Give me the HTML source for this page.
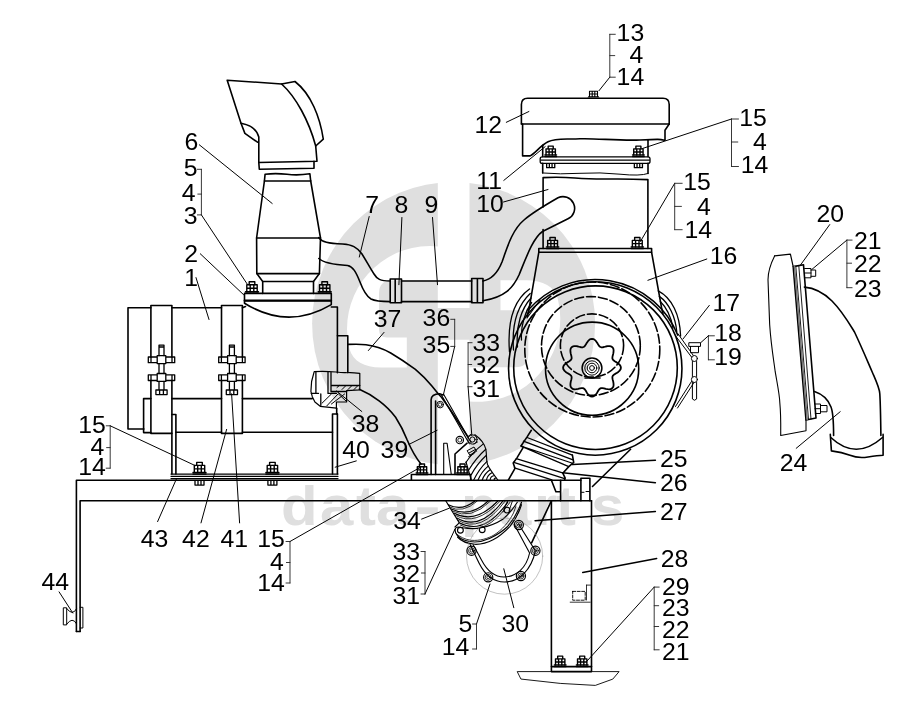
<!DOCTYPE html><html><head><meta charset="utf-8"><title>diagram</title><style>html,body{margin:0;padding:0;background:#fff}svg{display:block;filter:grayscale(1)}text{font-family:"Liberation Sans",sans-serif}</style></head><body>
<svg width="910" height="727" viewBox="0 0 910 727">
<rect width="910" height="727" fill="#fff"/>
<g id="wm"><circle cx="453.6" cy="323.6" r="141.5" fill="#dfdfdf"/>
<path d="M437.8,178 H469.5 V308 H437.8 V280.5 L392,280.5 Q379,280.5 379,293.5 L379,329.5 Q379,337.5 387,337.5 L406.8,337.5 L406.8,367.5 L381,367.5 C364,367.5 353,361 349.5,349 A83,83 0 0 1 347,329 A83,83 0 0 1 437.8,246.4 Z" fill="#fff"/>
<path d="M437.8,178 H469.5 V308 H437.8 V280.5 L392,280.5 Q379,280.5 379,293.5 L379,329.5 Q379,337.5 387,337.5 L406.8,337.5 L406.8,367.5 L381,367.5 C364,367.5 353,361 349.5,349 A83,83 0 0 1 347,329 A83,83 0 0 1 437.8,246.4 Z" fill="#fff" transform="rotate(180 453.65 323.9)"/>
<g font-weight="bold" font-size="56" fill="#dfdfdf">
<text x="281" y="525" transform="translate(281 0) scale(1.07 1) translate(-281 0)">d</text>
<text x="320" y="525" transform="translate(320 0) scale(1.07 1) translate(-320 0)">a</text>
<text x="356" y="525" transform="translate(356 0) scale(1.07 1) translate(-356 0)">t</text>
<text x="376" y="525" transform="translate(376 0) scale(1.07 1) translate(-376 0)">a</text>
<text x="414" y="525" transform="translate(414 0) scale(1.45 1) translate(-414 0)">-</text>
<text x="461" y="525" transform="translate(461 0) scale(1.07 1) translate(-461 0)">p</text>
<text x="498" y="525" transform="translate(498 0) scale(1.07 1) translate(-498 0)">a</text>
<text x="534" y="525" transform="translate(534 0) scale(1.07 1) translate(-534 0)">r</text>
<text x="556" y="525" transform="translate(556 0) scale(1.07 1) translate(-556 0)">t</text>
<text x="591" y="525" transform="translate(591 0) scale(1.07 1) translate(-591 0)">s</text>
</g></g>
<g id="draw" fill="none" stroke="#000" stroke-width="1.6" stroke-linecap="round" stroke-linejoin="round">
<path d="M227.2,80.2 L281.6,84 L295,81.5 C311,94 320,117 323.3,139.2 L315.7,146 L317,161.2 L258.8,162.5 L258.8,137 Q256,126 241,123.3 Z" />
<path d="M281.6,84 C296,97 309,121 315.7,146" />
<path d="M241,123.3 L244.9,133.4 L257.5,142.2" />
<path d="M258.8,162.5 L259.3,169.3 L314,168.3 L314,161.3" />
<path d="M265.1,174.2 Q276,173 287,174.3 T309.9,173.8 L310.7,181 L320.5,238 L319.4,273.6 L313.5,281.5 L313.5,293.4 M265.1,174.2 L264.4,181 L256.6,238 L256.8,273.6 L262.7,281.5 L262.7,293.4" />
<line x1="264.4" y1="181" x2="310.7" y2="181" />
<line x1="256.6" y1="238" x2="320.5" y2="238" />
<line x1="256.8" y1="273.6" x2="319.4" y2="273.6" />
<line x1="262.7" y1="281.5" x2="313.5" y2="281.5" />
<path d="M244.5,293.4 H331.3 V301 H244.5 Z" />
<line x1="244.5" y1="300.3" x2="331.3" y2="300.3" stroke-width="1.8"/>
<path d="M244.5,301 V303.2 Q287.9,330.3 331.3,304.6 V301" />
<g stroke-width="1.4">
<path d="M245.5,293.4 h13.0 M245.5,291.79999999999995 h13.0" />
<path d="M246.8,291.79999999999995 V284.79999999999995 H257.2 V291.79999999999995 M250.2,291.79999999999995 V284.79999999999995 M253.8,291.79999999999995 V284.79999999999995 M246.8,288.29999999999995 H257.2" />
<path d="M249.2,284.79999999999995 V281.79999999999995 H254.8 V284.79999999999995" />
</g>
<g stroke-width="1.4">
<path d="M318.2,293.4 h13.0 M318.2,291.79999999999995 h13.0" />
<path d="M319.5,291.79999999999995 V284.79999999999995 H329.9 V291.79999999999995 M322.9,291.79999999999995 V284.79999999999995 M326.5,291.79999999999995 V284.79999999999995 M319.5,288.29999999999995 H329.9" />
<path d="M321.9,284.79999999999995 V281.79999999999995 H327.5 V284.79999999999995" />
</g>
<path d="M150.9,307.7 H128 V429 H143.9" />
<line x1="171.9" y1="307.7" x2="221.5" y2="307.7" />
<line x1="242.4" y1="307.7" x2="245.5" y2="306.5" />
<path d="M331.3,307 H337.4 V372.7" />
<path d="M336.7,408.2 V414" />
<path d="M150.9,357 V305.5 H171.9 V357 M150.9,380.5 V433.4 H171.9 V380.5" />
<path d="M221.5,357 V305.5 H242.4 V357 M221.5,380.5 V433.4 H242.4 V380.5" />
<path d="M150.9,432.6 H143.6 V398.6 H150.9" />
<line x1="171.9" y1="398.6" x2="221.5" y2="398.6" />
<line x1="242.4" y1="398.6" x2="312.3" y2="398.6" />
<line x1="175.9" y1="432.2" x2="221.5" y2="432.2" />
<line x1="242.4" y1="432.2" x2="332.5" y2="432.2" />
<g stroke-width="1.3">
<path d="M159.0,345.2 h5 M159.0,347 h5 M159.0,345.2 V355.7 M164.0,345.2 V355.7" />
<path d="M157.2,355.7 h8.6 v7.9 h-8.6 Z M148.3,357 h8.9 v5.7 h-8.9 Z M165.8,357 h8.9 v5.7 h-8.9 Z M151.0,357 v5.7 M172.0,357 v5.7" />
<path d="M159.0,363.6 V373.5 M164.0,363.6 V373.5" />
<path d="M157.2,373.5 h8.6 v7.9 h-8.6 Z M148.3,374.8 h8.9 v5.7 h-8.9 Z M165.8,374.8 h8.9 v5.7 h-8.9 Z M151.0,374.8 v5.7 M172.0,374.8 v5.7" />
<path d="M159.0,381.4 V390 M164.0,381.4 V390 M155.9,390 h11.2 v4.6 h-11.2 Z M159.6,390 v4.6 M163.4,390 v4.6" />
</g>
<g stroke-width="1.3">
<path d="M229.4,345.2 h5 M229.4,347 h5 M229.4,345.2 V355.7 M234.4,345.2 V355.7" />
<path d="M227.6,355.7 h8.6 v7.9 h-8.6 Z M218.70000000000002,357 h8.9 v5.7 h-8.9 Z M236.20000000000002,357 h8.9 v5.7 h-8.9 Z M221.4,357 v5.7 M242.4,357 v5.7" />
<path d="M229.4,363.6 V373.5 M234.4,363.6 V373.5" />
<path d="M227.6,373.5 h8.6 v7.9 h-8.6 Z M218.70000000000002,374.8 h8.9 v5.7 h-8.9 Z M236.20000000000002,374.8 h8.9 v5.7 h-8.9 Z M221.4,374.8 v5.7 M242.4,374.8 v5.7" />
<path d="M229.4,381.4 V390 M234.4,381.4 V390 M226.3,390 h11.2 v4.6 h-11.2 Z M230.0,390 v4.6 M233.8,390 v4.6" />
</g>
<path d="M171.9,414.5 H175.9 V474" />
<line x1="171.9" y1="433.4" x2="171.9" y2="474" />
<path d="M337.4,414 H332.5 V474" />
<line x1="337.4" y1="414" x2="337.4" y2="474" />
<path d="M171,474 H338 M171,476.3 H338 M171,478.6 H338" stroke-width="1.25"/>
<path d="M76.4,631.5 V480.3 H580.9" />
<path d="M80.1,631.5 V500.8 H591.5" />
<line x1="76.4" y1="631.5" x2="80.1" y2="631.5" />
<g stroke-width="1.4">
<path d="M193.0,474 h13.0 M193.0,472.4 h13.0" />
<path d="M194.3,472.4 V465.4 H204.7 V472.4 M197.7,472.4 V465.4 M201.3,472.4 V465.4 M194.3,468.9 H204.7" />
<path d="M196.7,465.4 V462.4 H202.3 V465.4" />
</g>
<g stroke-width="1.4">
<path d="M265.9,474 h13.0 M265.9,472.4 h13.0" />
<path d="M267.2,472.4 V465.4 H277.59999999999997 V472.4 M270.59999999999997,472.4 V465.4 M274.2,472.4 V465.4 M267.2,468.9 H277.59999999999997" />
<path d="M269.59999999999997,465.4 V462.4 H275.2 V465.4" />
</g>
<g stroke-width="1.3">
<path d="M195.0,480.6 V485.1 H204.0 V480.6 M198.0,480.6 V485.1 M201.0,480.6 V485.1" />
</g>
<g stroke-width="1.3">
<path d="M267.9,480.6 V485.1 H276.9 V480.6 M270.9,480.6 V485.1 M273.9,480.6 V485.1" />
</g>
<path d="M63.7,607.8 H66.7 V624.9 H63.7 Z" stroke-width="1"/>
<path d="M66.7,608.5 Q72.5,616.3 76.4,609 M66.7,624.2 Q72.5,616.3 76.4,623.6" stroke-width="1"/>
<path d="M80.1,607.3 H82.9 V628 H80.1" stroke-width="1"/>
<path d="M318.8,237.7 C322,242 328,243.6 342.6,244 C352,244.6 357,247 362,254 C367,262 370,268 374,274 C377,279 380,281 390.2,281" />
<path d="M318.8,258.5 C323,262.5 332,264.5 347.6,265.5 C353,266.5 356,272 360,282 C363,290 366,296 371,299 C376,301.6 382,301.6 390.2,301.6" />
<path d="M390.2,279 H401.5 V302.8 H390.2 Z M395.2,279 V302.8" />
<line x1="401.5" y1="281" x2="471.7" y2="281" />
<line x1="401.5" y1="301.6" x2="471.7" y2="301.6" />
<path d="M471.7,278.5 H483 V302.8 H471.7 Z M477.4,278.5 V302.8" />
<path d="M483,281 C493,279 498,272 502,262 C507,248 512,230 524,220 C531,214 542,207 558,197.8 A11.3,11.3 0 0 1 568,218.8 L542.5,231.5 C533,238 526,258 519,275 C513,288 505,297 483,300.8" />
<path d="M521.4,124 V104.5 Q521.4,98.2 527.6,98.2 H663 Q669.2,98.2 669.2,104.5 V124" />
<line x1="521.4" y1="124" x2="669.2" y2="124" />
<path d="M522.6,124 V155.9 H530.2 C536,152.5 540,146 548,141.8 C556,137.6 566,139.6 580,138.8 S620,141 640,140 S660,139.2 665,140.3 V130.3 L669.2,124" />
<path d="M587.5,98.2 h12 M588.5,96.8 h10 M589.5,96.8 v-5.5 h8 v5.5 M592.2,91.3 v5.5 M594.8,91.3 v5.5 M589.5,94 h8" stroke-width="1.1"/>
<line x1="542.7" y1="145.3" x2="542.7" y2="156.6" />
<line x1="648" y1="140.3" x2="648" y2="156.6" />
<rect x="540.2" y="156.8" width="109.8" height="6.6" rx="2" stroke-width="1.3"/>
<path d="M541,160.1 H649.5" stroke-width="1.1"/>
<g stroke-width="1.4">
<path d="M544.85,156.6 h11.700000000000001 M544.85,155.0 h11.700000000000001" />
<path d="M546.0200000000001,155.0 V148.85999999999999 H555.38 V155.0 M549.08,155.0 V148.85999999999999 M552.32,155.0 V148.85999999999999 M546.0200000000001,151.93 H555.38" />
<path d="M548.1800000000001,148.85999999999999 V146.16 H553.22 V148.85999999999999" />
</g>
<g stroke-width="1.4">
<path d="M632.55,156.6 h11.700000000000001 M632.55,155.0 h11.700000000000001" />
<path d="M633.72,155.0 V148.85999999999999 H643.0799999999999 V155.0 M636.78,155.0 V148.85999999999999 M640.02,155.0 V148.85999999999999 M633.72,151.93 H643.0799999999999" />
<path d="M635.88,148.85999999999999 V146.16 H640.92 V148.85999999999999" />
</g>
<g stroke-width="1.3">
<path d="M546.6500000000001,163.6 V167.65 H554.75 V163.6 M549.35,163.6 V167.65 M552.0500000000001,163.6 V167.65" />
</g>
<g stroke-width="1.3">
<path d="M634.35,163.6 V167.65 H642.4499999999999 V163.6 M637.05,163.6 V167.65 M639.75,163.6 V167.65" />
</g>
<path d="M542.7,163.4 V173 M648,163.4 V173.5" />
<path d="M542.7,173 Q560,174.5 580,173.3 T620,174.2 T648,173.5" stroke-width="1"/>
<path d="M543.1,207 V177.6 Q560,176.8 575,178 T610,179 T647.9,179.6 V248.5" />
<line x1="543.1" y1="229.5" x2="543.1" y2="248.5" />
<path d="M538.8,248.5 H651.6 V252.3 H538.8 Z" />
<g stroke-width="1.4">
<path d="M546.4250000000001,248.5 h12.35 M546.4250000000001,246.9 h12.35" />
<path d="M547.66,246.9 V240.33 H557.5400000000001 V246.9 M550.89,246.9 V240.33 M554.3100000000001,246.9 V240.33 M547.66,243.615 H557.5400000000001" />
<path d="M549.94,240.33 V237.48000000000002 H555.26 V240.33" />
</g>
<g stroke-width="1.4">
<path d="M631.125,248.5 h12.35 M631.125,246.9 h12.35" />
<path d="M632.3599999999999,246.9 V240.33 H642.24 V246.9 M635.5899999999999,246.9 V240.33 M639.01,246.9 V240.33 M632.3599999999999,243.615 H642.24" />
<path d="M634.64,240.33 V237.48000000000002 H639.9599999999999 V240.33" />
</g>
<path d="M538.8,252.3 L528.8,310.4 L527.6,314" />
<path d="M651.6,252.3 L661.5,307.4 L663,314" />
<circle cx="595.25" cy="368.5" r="86.7"/><circle cx="595.5" cy="367.7" r="81.8"/>
<path d="M528.1,310.1 A89,89 0 0 1 677.8,335.2" stroke-width="1.5"/>
<path d="M529.5,289 C514,300 507,320 509.5,352 M530.2,293.5 C518,305 511.5,324 513.5,350 M531,298 C522,308 515.5,325 517.5,347 M531.6,302.5 C525.5,311 520.5,325 521.5,340" stroke-width="1.3"/>
<path d="M658.2,290.9 C672,298 680,315 680.6,336 M659.3,296.4 C669,303 675.5,317 676.8,332 M660.3,301.5 C666,307 671,317 673,328" stroke-width="1.3"/>
<path d="M528.8,310.4 L527,318 L540,300" stroke-width="1.1"/>
<circle cx="592.3" cy="349.5" r="67.5" stroke-dasharray="9 3"/>
<circle cx="590.9" cy="346" r="49.4" stroke-dasharray="9 3"/>
<circle cx="592" cy="345.5" r="31.6" stroke-dasharray="9 3"/>
<circle cx="592.1" cy="368.7" r="46.6"/>
<path d="M592.0,338.8 L593.5,339.1 L594.9,340.0 L596.2,341.4 L597.3,343.0 L598.2,344.6 L599.1,345.9 L600.0,346.8 L601.1,347.3 L602.4,347.3 L604.0,347.0 L605.8,346.5 L607.6,346.2 L609.5,346.1 L611.1,346.4 L612.4,347.3 L613.3,348.6 L613.6,350.2 L613.5,352.1 L613.2,353.9 L612.7,355.7 L612.4,357.3 L612.4,358.6 L612.9,359.7 L613.8,360.6 L615.1,361.5 L616.7,362.4 L618.3,363.5 L619.7,364.8 L620.6,366.2 L620.9,367.7 L620.6,369.2 L619.7,370.6 L618.3,371.9 L616.7,373.0 L615.1,373.9 L613.8,374.8 L612.9,375.7 L612.4,376.8 L612.4,378.1 L612.7,379.7 L613.2,381.5 L613.5,383.3 L613.6,385.2 L613.3,386.8 L612.4,388.1 L611.1,389.0 L609.5,389.3 L607.6,389.2 L605.8,388.9 L604.0,388.4 L602.4,388.1 L601.1,388.1 L600.0,388.6 L599.1,389.5 L598.2,390.8 L597.3,392.4 L596.2,394.0 L594.9,395.4 L593.5,396.3 L592.0,396.6 L590.5,396.3 L589.1,395.4 L587.8,394.0 L586.7,392.4 L585.8,390.8 L584.9,389.5 L584.0,388.6 L582.9,388.1 L581.6,388.1 L580.0,388.4 L578.2,388.9 L576.4,389.2 L574.5,389.3 L572.9,389.0 L571.6,388.1 L570.7,386.8 L570.4,385.2 L570.5,383.3 L570.8,381.5 L571.3,379.7 L571.6,378.1 L571.6,376.8 L571.1,375.7 L570.2,374.8 L568.9,373.9 L567.3,373.0 L565.7,371.9 L564.3,370.6 L563.4,369.2 L563.1,367.7 L563.4,366.2 L564.3,364.8 L565.7,363.5 L567.3,362.4 L568.9,361.5 L570.2,360.6 L571.1,359.7 L571.6,358.6 L571.6,357.3 L571.3,355.7 L570.8,353.9 L570.5,352.1 L570.4,350.2 L570.7,348.6 L571.6,347.3 L572.9,346.4 L574.5,346.1 L576.4,346.2 L578.2,346.5 L580.0,347.0 L581.6,347.3 L582.9,347.3 L584.0,346.8 L584.9,345.9 L585.8,344.6 L586.7,343.0 L587.8,341.4 L589.1,340.0 L590.5,339.1 L592.0,338.8 Z" stroke-width="1.8"/>
<circle cx="592" cy="368.0" r="9.9" stroke-width="1.5"/><circle cx="592" cy="368.0" r="7.2" stroke-width="1"/><circle cx="592" cy="368.0" r="4.8" stroke-width="1"/><circle cx="592" cy="368.0" r="2.4" stroke-width="1"/>
<line x1="585" y1="378" x2="600" y2="378" stroke-width="1.6"/>
<g stroke-width="1">
<path d="M689.2,342.7 H700.5 V346.4 H689.2 Z M690.5,346.4 V352.7 H698.5 V346.4" />
<circle cx="694.4" cy="358.5" r="3"/><circle cx="694.4" cy="379.5" r="3"/>
<path d="M692.4,361.5 V376.5 M696.6,361.5 V376.5 M692.4,382.5 V399 Q694.5,401.5 696.6,399 V382.5" />
<path d="M676,336.5 L691.5,357 M677.8,333.5 L693,355 M691.5,381.5 L675.5,406.5 M694,382.5 L677.5,408" />
</g>
<path d="M531.3,430.3 L527.1,436.9 L521,446 L523.4,447.2 L516.8,458.1 L513.2,463 L515,468.4 L508.3,480.2" />
<path d="M572.4,455.1 L573.7,462.4 L568.8,466.6 L562.8,473.2 L565.2,478.1 L564.5,480.2" />
<path d="M527.1,437.5 L572.4,455.1 M523.4,441.2 L573,459.9 M521,446 L571.8,463 M523.4,447.2 L568.8,466.6 M516.2,458.7 L563.4,473.2 M513.8,462.4 L564.6,478.7 M514.4,467.8 L551.9,479.9" stroke-width="1.3"/>
<line x1="630.6" y1="449.2" x2="592.5" y2="486.5" />
<path d="M586,491.5 h3.5 M581.5,492.3 h2.5" stroke-width="1"/>
<path d="M551.4,500.8 V671.6 H591.5 V500.8" />
<line x1="551.4" y1="666.6" x2="591.5" y2="666.6" />
<path d="M551.4,480.3 L555.9,491.8 H560.6 M560.6,480.3 V500.8" />
<path d="M580.9,500.8 V478.2 H589.9 V500.8" />
<line x1="551.4" y1="500.8" x2="531.6" y2="542.8" />
<g stroke-width="1.4">
<path d="M554.35,666.6 h11.700000000000001 M554.35,665.0 h11.700000000000001" />
<path d="M555.5200000000001,665.0 V658.86 H564.88 V665.0 M558.58,665.0 V658.86 M561.82,665.0 V658.86 M555.5200000000001,661.9300000000001 H564.88" />
<path d="M557.6800000000001,658.86 V656.16 H562.72 V658.86" />
</g>
<g stroke-width="1.4">
<path d="M576.35,666.6 h11.700000000000001 M576.35,665.0 h11.700000000000001" />
<path d="M577.5200000000001,665.0 V658.86 H586.88 V665.0 M580.58,665.0 V658.86 M583.82,665.0 V658.86 M577.5200000000001,661.9300000000001 H586.88" />
<path d="M579.6800000000001,658.86 V656.16 H584.72 V658.86" />
</g>
<path d="M517.6,671.6 H619.1 L612.8,679.1 L595.3,685.4 L560.2,683.4 L521.3,679.1 Z" stroke-width="0.9"/>
<path d="M572.7,591.4 H585.2 V600.2 H572.7 Z" stroke-width="0.9" stroke-dasharray="3 1.5"/>
<path d="M570.2,602.2 H590.2 M586.5,585.1 H590.5 M586.5,585.1 V600" stroke-width="0.8"/>
<path d="M337.4,335.7 H347.8 V372.7" />
<path d="M347.8,344.4 C356,344 362,344.2 366,344.7 C376,346 384,349 390.7,353 C400,358.5 408,364 415.4,369.4 C422,375 427,380 431.9,386 C436,391 439,395 441.7,397.5 L449.8,409 L468,437" />
<path d="M359.3,389.2 C367,392.5 373,396 379.1,400.8 C386,406 391,411 395.6,417.2 C400,424 404,432 407.1,439.8 C411,449 416,458 421,464" />
<g stroke-width="1.2">
<path d="M314.2,371.6 Q325,371 336,372 T347,372.6 T359.8,373.3 V389.8 L346.6,390.7 V402 H336.4 V408.2 L320.2,406.3 L314.9,402 L312.3,396.7 L310.9,391.4 L311.6,381.5 Z" />
<path d="M315.9,372 V393.4 M328,372.2 V393.4 H336.4 M331,372.5 V391.5 H346.6 M332,385.5 H359.8 M311.3,393.4 H318.5 M320.8,394 V405.8" stroke-width="1.3"/>
<path d="M322,403.2 L331.4,394 M326.8,405.9 L338,394 M331.4,404 L344.6,394 M337,387.5 l2.4,-2 M342,389.5 l4,-4 M348,389.5 l4,-4 M354,389.5 l4,-4 M338.5,394 L346,401" stroke-width="1"/>
</g>
<path d="M431.1,474.5 V399.8 Q431.4,394 439.6,393.8 L443,395 M435.6,474.5 V401" />
<circle cx="440.2" cy="404.6" r="3.3" stroke-width="1"/><circle cx="440.2" cy="404.6" r="1.8" stroke-width="0.8"/>
<path d="M441.6,395.2 L469.3,443.8 M443.6,394.2 L471,442.6" stroke-width="1.1"/>
<circle cx="459.8" cy="440.1" r="3.7" stroke-width="1.1"/><circle cx="459.8" cy="440.1" r="2" stroke-width="0.8"/>
<path d="M455,474.5 V454 L467.1,443.2" />
<path d="M443.7,474.5 V443.2 H447.1 L451.3,474.5" stroke-width="1.1"/>
<path d="M411.4,480.3 V474.5 H470.7 V480.3" />
<g stroke-width="1.4">
<path d="M416.15,474.5 h11.700000000000001 M416.15,472.9 h11.700000000000001" />
<path d="M417.32,472.9 V466.76 H426.68 V472.9 M420.38,472.9 V466.76 M423.62,472.9 V466.76 M417.32,469.83 H426.68" />
<path d="M419.48,466.76 V464.06 H424.52 V466.76" />
</g>
<g stroke-width="1.4">
<path d="M456.65,474.5 h11.700000000000001 M456.65,472.9 h11.700000000000001" />
<path d="M457.82,472.9 V466.76 H467.18 V472.9 M460.88,472.9 V466.76 M464.12,472.9 V466.76 M457.82,469.83 H467.18" />
<path d="M459.98,466.76 V464.06 H465.02 V466.76" />
</g>
<g stroke-width="1">
<circle cx="472.5" cy="439.5" r="4.6"/><circle cx="472.5" cy="439.5" r="2.6"/>
<path d="M468,436.5 l3,-2.2 M474,444 l3.5,-2 M467.5,450.5 l6.5,-3.5 l2.6,4.3 l-6.5,3.6 Z M469,453 l6.3,-3.5 M468.7,456.5 l5.5,-3" />
</g>
<g stroke-width="1.15">
<path d="M474.9,434.7 C481,439 484.5,444 485.8,449.2 C487,455 486,460 487.5,464.5 C490,470 494,475 497.9,480" />
<path d="M466,462 L471.3,480" />
<path d="M465.9,462.5 Q472.9,451.9 482.8,444.4" />
<path d="M468.9,469.8 Q475.9,458.0 485.8,449.2" />
<path d="M471.3,474.6 Q477.4,463.5 486.4,455.3" />
<path d="M473.7,480 Q478.9,469.1 487,461.3" />
<path d="M478,480 Q481.6,471.6 488.2,466.1" />
<path d="M482.2,480 Q484.6,473.4 490.1,469.8" />
<path d="M486.4,480 Q487.6,474.9 491.9,472.8" />
<path d="M490.1,480 Q490.4,476.4 493.7,475.8" />
<path d="M494.3,480 Q493.7,477.6 496.1,478.2" />
<path d="M445.9,501 L459.2,522.8 L455,527" />
<path d="M448.3,504.7 Q461.6,511.6 474.9,501" />
<path d="M449.3,506.9 Q462.6,514.2 477.29999999999995,501" stroke-width="0.8"/>
<path d="M451.3,508.9 Q470,518 488.2,501" />
<path d="M452.3,511.09999999999997 Q471,520.6 490.59999999999997,501" stroke-width="0.8"/>
<path d="M454.4,513.2 Q475,524.5 497.9,501" />
<path d="M455.4,515.4000000000001 Q476,527.1 500.29999999999995,501" stroke-width="0.8"/>
<path d="M456.8,518 Q480,531.5 502.8,501" />
<path d="M457.8,520.2 Q481,534.1 505.2,501" stroke-width="0.8"/>
<path d="M459.2,522.8 Q484,536 507.6,502.3" />
<path d="M460.2,525.0 Q485,538.6 510.0,502.3" stroke-width="0.8"/>
</g>
<g stroke-width="1.15">
<path d="M455,530.1 C455,527 458,526.5 462.8,527.7 C470,529 476,529 481,527.7 C490,526 497,523 502.8,519.2 C509,514 513,509 517.3,502.3" />
<path d="M455,530.1 C455.5,535 459,538 464,540 C472,543 482,542 489.5,538.6 C497,535 503,531 507.6,526.5 C514,519 518,512 521.5,502.3" />
<path d="M457.5,537 C461,541 466,543.5 474.9,544.3 C482,544.5 488,542.5 493.1,539.8 C500,536 505,531.5 510,526.3 C515,520 519,513 521.5,504.7" />
<path d="M456,533.5 C460,537 465,539.5 471,540.3 C480,541 488,538.5 494,535 C502,530 509,522 513.5,513 L516,506" stroke-width="0.8"/>
<path d="M507.6,501 L503,512 M512.4,501 L509,511" stroke-width="0.9"/>
<circle cx="460.4" cy="530.3" r="2.9"/><circle cx="482.2" cy="529.8" r="2.9"/><circle cx="507" cy="510.1" r="2.9"/>
<path d="M470.1,544.6 L479,563 C486,577 495,582 504.5,582 C519,582 531.5,570 535.4,550.7 L518.5,524" />
<path d="M473.2,544.8 L481.5,560 C488,572.5 496,577 504,577 C516,577 526.5,568 529.6,553 L514.3,524.5" stroke-width="1.1"/>
<circle cx="504.6" cy="556.1" r="38.1" stroke="#999" stroke-width="0.6"/>
<circle cx="471.5" cy="550.7" r="4.6"/><circle cx="471.5" cy="550.7" r="3" stroke-width="0.8"/><circle cx="471.5" cy="550.7" r="1.4" stroke-width="0.8"/>
<circle cx="488.2" cy="577.3" r="4.6"/><circle cx="488.2" cy="577.3" r="3" stroke-width="0.8"/><circle cx="488.2" cy="577.3" r="1.4" stroke-width="0.8"/>
<circle cx="520.9" cy="576" r="4.6"/><circle cx="520.9" cy="576" r="3" stroke-width="0.8"/><circle cx="520.9" cy="576" r="1.4" stroke-width="0.8"/>
<circle cx="535.4" cy="550.7" r="4.6"/><circle cx="535.4" cy="550.7" r="3" stroke-width="0.8"/><circle cx="535.4" cy="550.7" r="1.4" stroke-width="0.8"/>
<circle cx="518.8" cy="525" r="4.6"/><circle cx="518.8" cy="525" r="3" stroke-width="0.8"/><circle cx="518.8" cy="525" r="1.4" stroke-width="0.8"/>
</g>
<path d="M774.6,255.9 L790.4,254.1 L793.2,266.6" stroke-width="1.2"/>
<path d="M774.6,255.9 C770,265 768,272 768,279.7 C768.5,295 769,310 769.7,325 C771,345 774,362 775.2,371.7 C777.5,385 779.6,395 779.8,402.5 C781,415 780.8,425 780.7,435.5 L806,430.7 V419.5" stroke-width="1.1"/>
<path d="M793.2,266.6 L803.5,264.7 L816,418 L806,420 Z" />
<path d="M795.8,266.3 L808.5,419.5 M798.8,265.8 L811,419" stroke-width="0.9"/>
<path d="M794.5,266.5 L807.2,419.7" stroke="#777" stroke-width="1.6"/>
<g stroke-width="1">
<path d="M804.6,268.5 H811 V277.8 H804.6 M811,270 H815.7 V276.3 H811 M804.8,273 H811" />
<path d="M815,404 H820.5 V413.5 H815.3 M820.5,405.5 H827 V411.8 H820.5 M815,408.7 H820.5" />
</g>
<path d="M804.4,287.1 C815,288 824,293 832,301 C842,311 849,323 854.5,332 C862,348 867,360 872.1,371.7 C877,383 879.5,388 879.8,393.7 C880.5,405 880.7,420 880.9,435.5" />
<path d="M814.5,391.5 C822,394 828,399 831,407 C833,412 833.6,420 833.6,435.5" />
<path d="M830.3,434.4 L831.4,450.9 Q842,452 850,455.3 T868,457 T883.1,455.3 V434.4" />
<path d="M830.8,437.5 Q856,461 882.5,437.5" />
</g>
<g id="lead" fill="none" stroke="#000" stroke-width="1.0" stroke-linecap="round">
<line x1="199.3" y1="144.8" x2="272.2" y2="203.5" />
<line x1="201.4" y1="214.9" x2="247.1" y2="283.9" />
<line x1="200.3" y1="253.8" x2="243.6" y2="294.7" />
<line x1="196" y1="277.6" x2="209" y2="319.5" />
<line x1="369.2" y1="216.5" x2="359.3" y2="257" />
<line x1="401.9" y1="217.5" x2="398.9" y2="284.7" />
<line x1="432.5" y1="217.5" x2="437.5" y2="284.7" />
<line x1="384" y1="332.4" x2="368.4" y2="350.5" />
<line x1="454.7" y1="346.4" x2="443.4" y2="394.8" />
<line x1="468.1" y1="386.7" x2="471.8" y2="435.5" />
<line x1="361.8" y1="411.5" x2="336.3" y2="390.9" />
<line x1="356.3" y1="460.9" x2="335.2" y2="467.2" />
<line x1="409" y1="444.4" x2="437.1" y2="430.3" />
<line x1="421.6" y1="519.1" x2="449.3" y2="508.2" />
<line x1="290" y1="541.5" x2="420" y2="467.5" />
<line x1="425" y1="594" x2="455" y2="529" />
<line x1="476.5" y1="624" x2="490" y2="584" />
<line x1="110.2" y1="425.8" x2="195.4" y2="465.7" />
<line x1="157.6" y1="521.6" x2="176.4" y2="479" />
<line x1="201" y1="522.9" x2="226.6" y2="429.4" />
<line x1="239.6" y1="522.9" x2="231.6" y2="393.8" />
<line x1="59.1" y1="591.9" x2="72.8" y2="613" />
<line x1="609.8" y1="77.2" x2="599" y2="90.7" />
<line x1="506.3" y1="122.3" x2="528.9" y2="111.5" />
<line x1="503.8" y1="180.4" x2="545.2" y2="146.6" />
<line x1="503.5" y1="202" x2="548" y2="189.5" />
<line x1="731.5" y1="119" x2="642.5" y2="148.5" />
<line x1="674.7" y1="183.3" x2="640.4" y2="241.5" />
<line x1="706.8" y1="259" x2="647.9" y2="280.3" />
<line x1="709.3" y1="305.4" x2="683" y2="339" />
<line x1="829.7" y1="224.6" x2="800.7" y2="264.7" />
<line x1="846.9" y1="240.1" x2="811.9" y2="269.4" />
<line x1="796.2" y1="448.3" x2="840.2" y2="411.7" />
<line x1="654.2" y1="587.1" x2="586.5" y2="661.6" />
<line x1="513.8" y1="607.7" x2="503.8" y2="568.8" />
<line x1="655.4" y1="460.2" x2="572.5" y2="464.6" stroke-width="1.5"/>
<line x1="655.4" y1="482.7" x2="562.7" y2="472.7" stroke-width="1.5"/>
<line x1="655.4" y1="511.5" x2="535.1" y2="520.8" stroke-width="1.5"/>
<line x1="656.7" y1="558.4" x2="582.7" y2="572.4" stroke-width="1.5"/>
<path d="M201.4,169.3 V214.9" stroke="#222" stroke-width="0.9"/>
<path d="M201.4,169.3 h-4" stroke="#222" stroke-width="0.9"/>
<path d="M201.4,194.1 h-3.6" stroke="#222" stroke-width="0.9"/>
<path d="M201.4,214.9 h-4" stroke="#222" stroke-width="0.9"/>
<path d="M110.2,425.8 V468.2" stroke="#222" stroke-width="0.9"/>
<path d="M110.2,425.8 h-4" stroke="#222" stroke-width="0.9"/>
<path d="M110.2,447.6 h-3.6" stroke="#222" stroke-width="0.9"/>
<path d="M110.2,468.2 h-4" stroke="#222" stroke-width="0.9"/>
<path d="M290,541.5 V583" stroke="#222" stroke-width="0.9"/>
<path d="M290,541.5 h-4" stroke="#222" stroke-width="0.9"/>
<path d="M290,562.5 h-3.6" stroke="#222" stroke-width="0.9"/>
<path d="M290,583 h-4" stroke="#222" stroke-width="0.9"/>
<path d="M425,551.5 V594" stroke="#222" stroke-width="0.9"/>
<path d="M425,551.5 h-4" stroke="#222" stroke-width="0.9"/>
<path d="M425,573 h-3.6" stroke="#222" stroke-width="0.9"/>
<path d="M425,594 h-4" stroke="#222" stroke-width="0.9"/>
<path d="M476.5,624 V649" stroke="#222" stroke-width="0.9"/>
<path d="M476.5,624 h-4" stroke="#222" stroke-width="0.9"/>
<path d="M476.5,649 h-4" stroke="#222" stroke-width="0.9"/>
<path d="M454.7,319.3 V346.4" stroke="#222" stroke-width="0.9"/>
<path d="M454.7,319.3 h-4" stroke="#222" stroke-width="0.9"/>
<path d="M454.7,346.4 h-4" stroke="#222" stroke-width="0.9"/>
<path d="M468.1,342.7 V386.7" stroke="#222" stroke-width="0.9"/>
<path d="M468.1,342.7 h4" stroke="#222" stroke-width="0.9"/>
<path d="M468.1,364.5 h3.6" stroke="#222" stroke-width="0.9"/>
<path d="M468.1,386.7 h4" stroke="#222" stroke-width="0.9"/>
<path d="M609.8,34.3 V77.2" stroke="#222" stroke-width="0.9"/>
<path d="M609.8,34.3 h5.5" stroke="#222" stroke-width="0.9"/>
<path d="M609.8,55.6 h4.95" stroke="#222" stroke-width="0.9"/>
<path d="M609.8,77.2 h5.5" stroke="#222" stroke-width="0.9"/>
<path d="M731.5,119 V166.5" stroke="#222" stroke-width="0.9"/>
<path d="M731.5,119 h7" stroke="#222" stroke-width="0.9"/>
<path d="M731.5,142 h6.3" stroke="#222" stroke-width="0.9"/>
<path d="M731.5,166.5 h7" stroke="#222" stroke-width="0.9"/>
<path d="M674.7,183.3 V229.7" stroke="#222" stroke-width="0.9"/>
<path d="M674.7,183.3 h7.5" stroke="#222" stroke-width="0.9"/>
<path d="M674.7,206.4 h6.75" stroke="#222" stroke-width="0.9"/>
<path d="M674.7,229.7 h7.5" stroke="#222" stroke-width="0.9"/>
<path d="M846.9,240.1 V287.7" stroke="#222" stroke-width="0.9"/>
<path d="M846.9,240.1 h5.2" stroke="#222" stroke-width="0.9"/>
<path d="M846.9,263.2 h4.680000000000001" stroke="#222" stroke-width="0.9"/>
<path d="M846.9,287.7 h5.2" stroke="#222" stroke-width="0.9"/>
<path d="M708.4,335.8 V359.8" stroke="#222" stroke-width="0.9"/>
<path d="M708.4,335.8 h6" stroke="#222" stroke-width="0.9"/>
<path d="M708.4,359.8 h6" stroke="#222" stroke-width="0.9"/>
<line x1="708.4" y1="335.8" x2="700.6" y2="342.8" />
<path d="M654.2,587.1 V649.8" stroke="#222" stroke-width="0.9"/>
<path d="M654.2,587.1 h5" stroke="#222" stroke-width="0.9"/>
<path d="M654.2,605.7 h4.5" stroke="#222" stroke-width="0.9"/>
<path d="M654.2,626.5 h4.5" stroke="#222" stroke-width="0.9"/>
<path d="M654.2,649.8 h5" stroke="#222" stroke-width="0.9"/>
</g>
<g id="lab" font-size="24.8" fill="#000">
<text x="184.4" y="149.5">6</text>
<text x="183.7" y="176.3">5</text>
<text x="181.8" y="200.9">4</text>
<text x="183.7" y="223.7">3</text>
<text x="184.2" y="262.0">2</text>
<text x="184.2" y="285.8">1</text>
<text x="365.2" y="212.6">7</text>
<text x="394.5" y="212.6">8</text>
<text x="424.6" y="212.6">9</text>
<text x="373.8" y="326.7">37</text>
<text x="422.6" y="326.4">36</text>
<text x="422.6" y="353.4">35</text>
<text x="472.4" y="350.9">33</text>
<text x="472.4" y="373.4">32</text>
<text x="472.4" y="397.3">31</text>
<text x="351.7" y="431.7">38</text>
<text x="342.3" y="457.8">40</text>
<text x="380.6" y="457.8">39</text>
<text x="393.2" y="528.5">34</text>
<text x="257.2" y="547.4">15</text>
<text x="269.9" y="569.9">4</text>
<text x="257.2" y="591.2">14</text>
<text x="392.5" y="559.9">33</text>
<text x="392.5" y="581.9">32</text>
<text x="392.5" y="603.9">31</text>
<text x="458.5" y="632.4">5</text>
<text x="441.7" y="655.4">14</text>
<text x="78.3" y="433.2">15</text>
<text x="90.4" y="454.5">4</text>
<text x="78.3" y="475.0">14</text>
<text x="140.8" y="546.7">43</text>
<text x="182.1" y="546.7">42</text>
<text x="220.4" y="546.7">41</text>
<text x="41.4" y="589.8">44</text>
<text x="616.6" y="40.7">13</text>
<text x="629.4" y="62.5">4</text>
<text x="616.6" y="84.5">14</text>
<text x="474.5" y="133.4">12</text>
<text x="476.2" y="188.5">11</text>
<text x="476.2" y="211.9">10</text>
<text x="739.2" y="125.5">15</text>
<text x="752.9" y="149.5">4</text>
<text x="740.7" y="173.2">14</text>
<text x="683.2" y="189.9">15</text>
<text x="696.9" y="214.7">4</text>
<text x="684.4" y="238.1">14</text>
<text x="709.7" y="264.2">16</text>
<text x="712.5" y="310.9">17</text>
<text x="714.2" y="340.7">18</text>
<text x="714.2" y="365.4">19</text>
<text x="816.5" y="221.9">20</text>
<text x="853.9" y="248.9">21</text>
<text x="853.9" y="272.3">22</text>
<text x="853.9" y="296.6">23</text>
<text x="779.7" y="471.1">24</text>
<text x="659.9" y="467.0">25</text>
<text x="659.9" y="490.8">26</text>
<text x="659.9" y="519.7">27</text>
<text x="660.7" y="567.3">28</text>
<text x="662.0" y="594.5">29</text>
<text x="662.0" y="615.8">23</text>
<text x="662.0" y="637.6">22</text>
<text x="662.0" y="659.7">21</text>
<text x="501.5" y="631.6">30</text>
</g>
</svg></body></html>
